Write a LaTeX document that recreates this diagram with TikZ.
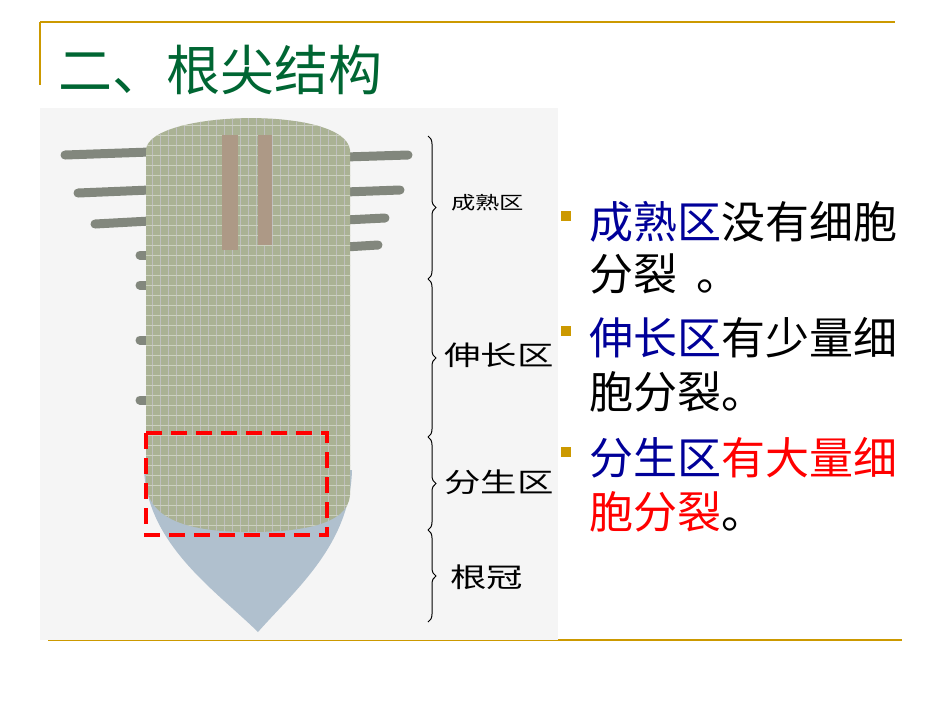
\documentclass[tikz,border=0pt]{standalone}
\usepackage{fontspec}
\setmainfont{Liberation Sans}
\newfontfamily\cjk{Noto Sans CJK SC}
\usetikzlibrary{decorations.pathreplacing}
\definecolor{gold}{RGB}{204,153,0}
\definecolor{ttl}{RGB}{0,102,51}
\definecolor{dblue}{RGB}{0,0,153}
\definecolor{rootg}{RGB}{170,178,148}
\definecolor{capb}{RGB}{176,192,206}
\definecolor{hair}{RGB}{130,135,125}
\tikzset{
 rule/.style={gold,line width=1.2pt},
 hairln/.style={hair,line width=9pt,line cap=round},
 bracestyle/.style={decorate,decoration={brace,amplitude=8pt},line width=1pt},
 lab/.style={anchor=west,font=\cjk\fontsize{27}{27}\selectfont,inner sep=0,xscale=1.35},
 btxt/.style={anchor=west,font=\cjk\fontsize{44}{44}\selectfont,inner sep=0},
 bul/.style={fill=gold,minimum size=10pt,inner sep=0}
}
\begin{document}
\begin{tikzpicture}[x=1pt,y=-1pt]
\useasboundingbox (0,0) rectangle (950,713);
\fill[white] (0,0) rectangle (950,713);
\draw[rule] (40,22) -- (895,22);
\draw[rule] (40,22) -- (40,85);
\draw[rule] (48,640) -- (902,640);
\node[anchor=west,text=ttl,font=\cjk\fontsize{54}{54}\selectfont,inner sep=0] (title) at (58,70) {二、根尖结构};
\fill[black!4] (40,108) rectangle (558,640);
% root hairs
\foreach \y/\l in {152/65,190/78,221/95}{\draw[hairln] (150,\y) -- (\l,\y+3);}
\foreach \y/\r in {157/408,192/400,220/385,247/378}{\draw[hairln] (345,\y) -- (\r,\y-2);}
\foreach \y in {255,285,340,400}{\draw[hairln] (148,\y) -- (140,\y);}
% cap
\fill[capb] (144,470) .. controls (148,545) and (215,590) .. (258,632) .. controls (295,590) and (350,545) .. (352,470) -- cycle;
% body
\fill[rootg] (146,150) .. controls (148,110) and (345,105) .. (350,150) -- (350,495) .. controls (348,525) and (300,532) .. (250,532) .. controls (190,532) and (146,520) .. (146,480) -- cycle;
\begin{scope}
\clip (146,150) .. controls (148,110) and (345,105) .. (350,150) -- (350,495) .. controls (348,525) and (300,532) .. (250,532) .. controls (190,532) and (146,520) .. (146,480) -- cycle;
\foreach \x in {152,160,...,350}{\draw[black!25,line width=0.3pt] (\x,110) -- (\x,540);}
\foreach \y in {125,135,...,540}{\draw[white!40!rootg,line width=0.3pt] (140,\y) -- (355,\y);}
\fill[brown!55!black!55] (222,135) rectangle (238,250);
\fill[brown!55!black!55] (258,135) rectangle (272,245);
\end{scope}
% red dashed box
\draw[red,line width=4pt,dash pattern=on 16pt off 9pt] (146,433) rectangle (327,535);
% braces
\coordinate (b0) at (428,136); \coordinate (b1) at (428,279);
\coordinate (b2) at (428,437); \coordinate (b3) at (428,530); \coordinate (b4) at (428,622);
\draw[bracestyle] (b0) -- (b1);
\draw[bracestyle] (b1) -- (b2);
\draw[bracestyle] (b2) -- (b3);
\draw[bracestyle] (b3) -- (b4);
\node[lab,font=\cjk\fontsize{18}{18}\selectfont] (l1) at (451,203) {成熟区};
\node[lab] (l2) at (444,355) {伸长区};
\node[lab] (l3) at (444,482) {分生区};
\node[lab] (l4) at (450,577) {根冠};
% bullets
\node[bul] (s1) at (566,216) {};
\node[bul] (s2) at (566,331) {};
\node[bul] (s3) at (566,452) {};
\node[btxt] (t1) at (589,222) {\textcolor{dblue}{成熟区}没有细胞};
\node[btxt] (t1b) at (589,274) {分裂\ \ 。};
\node[btxt] (t2) at (589,338) {\textcolor{dblue}{伸长区}有少量细};
\node[btxt] (t2b) at (589,392) {胞分裂。};
\node[btxt] (t3) at (589,458) {\textcolor{dblue}{分生区}\textcolor{red}{有大量细}};
\node[btxt] (t3b) at (589,512) {\textcolor{red}{胞分裂}。};
\end{tikzpicture}
\end{document}
